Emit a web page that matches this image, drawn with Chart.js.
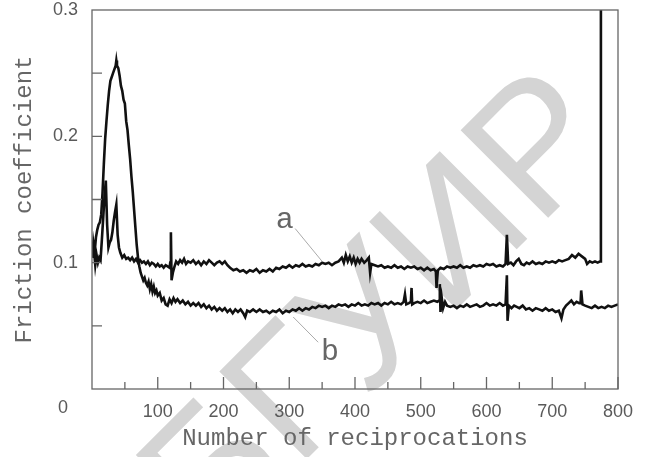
<!DOCTYPE html>
<html>
<head>
<meta charset="utf-8">
<script src="https://cdn.jsdelivr.net/npm/chart.js@4.4.1/dist/chart.umd.min.js"></script>
<style>
  html, body { margin: 0; padding: 0; background: #fff; }
  #wrap { width: 645px; height: 457px; }
</style>
</head>
<body>
<div id="wrap"><canvas id="friction" width="645" height="457"></canvas></div>
<script>
// curve a: reciprocations / friction coefficient
var stepsA = [0, 3, 5, 7, 9, 11, 13, 15, 17, 19, 21, 23, 25, 27, 29, 31, 33, 35, 37, 39,
  41, 43, 46, 49, 52, 55, 58, 61, 64, 67, 70, 73, 76, 79, 82, 85, 88, 91, 94, 97,
  100, 103, 106, 109, 112, 115, 118, 119, 120, 121, 123, 125, 128, 131, 134, 137, 140, 143, 146, 150,
  154, 158, 162, 166, 170, 174, 178, 182, 186, 190, 194, 198, 202, 206, 210, 215, 220, 225, 230, 235,
  240, 245, 250, 255, 260, 265, 270, 275, 280, 285, 290, 295, 300, 305, 310, 315, 320, 325, 330, 335,
  340, 345, 350, 355, 360, 365, 370, 375, 380, 383, 386, 389, 392, 395, 398, 401, 404, 407, 410, 414,
  418, 421, 423, 425, 430, 435, 440, 445, 450, 455, 460, 465, 470, 475, 480, 485, 490, 495, 500, 505,
  510, 515, 520, 523, 524, 526, 530, 535, 540, 545, 550, 555, 560, 565, 570, 575, 580, 585, 590, 595,
  600, 605, 610, 615, 620, 625, 629, 631, 633, 637, 641, 645, 649, 653, 657, 661, 665, 670, 675, 680,
  685, 690, 695, 700, 705, 710, 715, 720, 725, 730, 735, 740, 745, 750, 753, 757, 761, 765, 769, 773, 774];
var frictionA = [0.104, 0.110, 0.098, 0.106, 0.100, 0.104, 0.102, 0.118, 0.135, 0.152, 0.165, 0.130, 0.112, 0.116, 0.118, 0.124, 0.133, 0.140, 0.146, 0.122,
  0.112, 0.108, 0.104, 0.106, 0.103, 0.104, 0.102, 0.104, 0.101, 0.103, 0.100, 0.102, 0.100, 0.101, 0.099, 0.101, 0.098, 0.100, 0.099, 0.097,
  0.099, 0.097, 0.098, 0.096, 0.098, 0.097, 0.096, 0.100, 0.124, 0.086, 0.092, 0.096, 0.101, 0.099, 0.102, 0.100, 0.103, 0.099, 0.101, 0.100,
  0.102, 0.099, 0.101, 0.098, 0.101, 0.099, 0.102, 0.100, 0.098, 0.100, 0.101, 0.099, 0.101, 0.098, 0.096, 0.094, 0.095, 0.093, 0.094, 0.092,
  0.094, 0.093, 0.095, 0.092, 0.094, 0.093, 0.095, 0.093, 0.096, 0.095, 0.097, 0.096, 0.098, 0.096, 0.098, 0.097, 0.099, 0.097, 0.098, 0.097,
  0.099, 0.098, 0.100, 0.099, 0.100, 0.098, 0.100, 0.101, 0.104, 0.100, 0.106, 0.101, 0.105, 0.100, 0.104, 0.099, 0.103, 0.100, 0.103, 0.100,
  0.102, 0.104, 0.092, 0.099, 0.098, 0.097, 0.098, 0.096, 0.097, 0.096, 0.098, 0.096, 0.097, 0.095, 0.097, 0.096, 0.097, 0.095, 0.096, 0.094,
  0.096, 0.094, 0.095, 0.093, 0.080, 0.094, 0.096, 0.095, 0.097, 0.096, 0.097, 0.096, 0.098, 0.096, 0.097, 0.096, 0.098, 0.097, 0.098, 0.097,
  0.099, 0.098, 0.099, 0.097, 0.098, 0.097, 0.099, 0.122, 0.099, 0.100, 0.098, 0.101, 0.103, 0.099, 0.098, 0.100, 0.099, 0.101, 0.099, 0.100,
  0.099, 0.101, 0.100, 0.101, 0.100, 0.102, 0.101, 0.102, 0.103, 0.106, 0.104, 0.107, 0.105, 0.103, 0.099, 0.101, 0.100, 0.101, 0.100, 0.101, 0.330];

// curve b
var stepsB = [0, 2, 4, 6, 8, 10, 12, 14, 16, 18, 20, 22, 24, 26, 28, 30, 32, 34, 36, 37,
  38, 40, 42, 44, 46, 48, 50, 52, 54, 56, 58, 60, 62, 64, 66, 68, 70, 72, 74, 76,
  78, 80, 82, 84, 86, 88, 90, 92, 94, 96, 98, 100, 103, 106, 109, 112, 115, 118, 121, 124,
  127, 130, 134, 138, 142, 146, 150, 154, 158, 162, 166, 170, 174, 178, 182, 186, 190, 194, 198, 202,
  206, 210, 214, 218, 222, 226, 230, 233, 236, 240, 245, 250, 255, 260, 265, 270, 275, 280, 285, 290,
  295, 300, 305, 310, 315, 320, 325, 330, 335, 340, 345, 350, 355, 360, 365, 370, 375, 380, 385, 390,
  395, 400, 405, 410, 415, 420, 425, 430, 435, 440, 445, 450, 455, 460, 465, 470, 474, 476, 478, 482,
  485, 486, 487, 490, 495, 500, 505, 510, 515, 520, 525, 528, 529, 530, 532, 534, 537, 540, 545, 550,
  555, 560, 565, 570, 575, 580, 585, 590, 595, 600, 605, 610, 615, 620, 625, 629, 631, 632, 634, 638,
  642, 646, 650, 655, 660, 665, 670, 675, 680, 685, 690, 695, 700, 705, 710, 714, 717, 721, 725, 729,
  733, 737, 741, 743, 744, 746, 750, 755, 760, 765, 770, 775, 780, 785, 790, 795, 800];
var frictionB = [0.104, 0.116, 0.108, 0.120, 0.126, 0.130, 0.132, 0.138, 0.155, 0.178, 0.198, 0.212, 0.225, 0.236, 0.244, 0.247, 0.250, 0.253, 0.256, 0.260,
  0.256, 0.254, 0.248, 0.240, 0.236, 0.229, 0.226, 0.212, 0.205, 0.193, 0.182, 0.168, 0.156, 0.142, 0.128, 0.114, 0.104, 0.097, 0.092, 0.089,
  0.086, 0.088, 0.084, 0.082, 0.085, 0.079, 0.083, 0.077, 0.081, 0.076, 0.078, 0.074, 0.076, 0.070, 0.072, 0.067, 0.066, 0.071, 0.068, 0.072,
  0.069, 0.071, 0.068, 0.070, 0.067, 0.069, 0.066, 0.068, 0.066, 0.068, 0.065, 0.067, 0.064, 0.066, 0.063, 0.065, 0.062, 0.064, 0.062, 0.064,
  0.061, 0.063, 0.060, 0.063, 0.061, 0.063, 0.060, 0.057, 0.062, 0.061, 0.063, 0.061, 0.063, 0.061, 0.062, 0.060, 0.062, 0.061, 0.063, 0.060,
  0.062, 0.061, 0.063, 0.062, 0.064, 0.062, 0.064, 0.063, 0.065, 0.064, 0.066, 0.065, 0.066, 0.064, 0.066, 0.065, 0.067, 0.066, 0.067, 0.065,
  0.067, 0.066, 0.068, 0.066, 0.067, 0.066, 0.068, 0.067, 0.068, 0.066, 0.068, 0.067, 0.069, 0.067, 0.068, 0.067, 0.069, 0.075, 0.067, 0.068,
  0.069, 0.080, 0.067, 0.068, 0.069, 0.068, 0.070, 0.068, 0.069, 0.070, 0.069, 0.070, 0.083, 0.061, 0.072, 0.064, 0.069, 0.066, 0.065, 0.066,
  0.064, 0.066, 0.065, 0.067, 0.065, 0.066, 0.067, 0.065, 0.066, 0.068, 0.066, 0.067, 0.066, 0.068, 0.066, 0.067, 0.090, 0.054, 0.066, 0.064,
  0.066, 0.065, 0.064, 0.066, 0.063, 0.064, 0.062, 0.064, 0.063, 0.062, 0.064, 0.062, 0.063, 0.061, 0.062, 0.056, 0.063, 0.066, 0.068, 0.070,
  0.067, 0.069, 0.068, 0.068, 0.078, 0.067, 0.066, 0.065, 0.064, 0.066, 0.064, 0.065, 0.064, 0.066, 0.065, 0.066, 0.067];

var xTicksMajor = [100, 200, 300, 400, 500, 600, 700, 800];
var xTicksMinor = [50, 150, 250, 350, 450, 550, 650, 750];
var yTicks = [0.05, 0.1, 0.15, 0.2, 0.25];

function toPoints(xs, ys) {
    var pts = [];
    for (var i = 0; i < xs.length; i++) {
        pts.push({ x: xs[i], y: ys[i] });
    }
    return pts;
}

var inkGray = '#5a5a5a';
var titleGray = '#666';

// watermark, frame, inner ticks, curve labels
var decor = {
    id: 'decor',
    beforeDraw: function (chart) {
        var ctx = chart.ctx;
        ctx.save();
        ctx.translate(213, 553);
        ctx.rotate(-45 * Math.PI / 180);
        ctx.fillStyle = '#d4d4d4';
        ctx.font = '180px "Liberation Sans"';
        ctx.textBaseline = 'alphabetic';
        ctx.fillText('БГУИР', 0, 0);
        ctx.restore();
    },
    afterDraw: function (chart) {
        var ctx = chart.ctx;
        var a = chart.chartArea;
        var xs = chart.scales.x, ys = chart.scales.y;
        ctx.save();
        ctx.strokeStyle = '#666';
        ctx.lineWidth = 1.3;
        ctx.strokeRect(a.left, a.top, a.right - a.left, a.bottom - a.top);
        ctx.beginPath();
        xTicksMajor.forEach(function (v) {
            var px = xs.getPixelForValue(v);
            ctx.moveTo(px, a.bottom); ctx.lineTo(px, a.bottom - 12);
        });
        xTicksMinor.forEach(function (v) {
            var px = xs.getPixelForValue(v);
            ctx.moveTo(px, a.bottom); ctx.lineTo(px, a.bottom - 7);
        });
        yTicks.forEach(function (v) {
            var py = ys.getPixelForValue(v);
            ctx.moveTo(a.left, py); ctx.lineTo(a.left + 10, py);
        });
        ctx.stroke();

        // origin label
        ctx.fillStyle = inkGray;
        ctx.font = '18px "Liberation Sans"';
        ctx.textAlign = 'center';
        ctx.textBaseline = 'middle';
        ctx.fillText('0', a.left - 29, a.bottom + 19);

        // curve labels with leader lines
        ctx.strokeStyle = '#aaa';
        ctx.lineWidth = 1;
        ctx.beginPath();
        ctx.moveTo(xs.getPixelForValue(309), ys.getPixelForValue(0.127));
        ctx.lineTo(xs.getPixelForValue(350), ys.getPixelForValue(0.101));
        ctx.moveTo(xs.getPixelForValue(306), ys.getPixelForValue(0.057));
        ctx.lineTo(xs.getPixelForValue(344), ys.getPixelForValue(0.037));
        ctx.stroke();
        ctx.fillStyle = titleGray;
        ctx.font = '30px "Liberation Mono"';
        ctx.fillText('a', xs.getPixelForValue(293), ys.getPixelForValue(0.134));
        ctx.fillText('b', xs.getPixelForValue(362), ys.getPixelForValue(0.029));
        ctx.restore();
    }
};

var ctx1 = document.getElementById('friction');
var frictionChart = new Chart(ctx1, {
    type: 'line',
    data: {
        datasets: [{
            label: 'a',
            data: toPoints(stepsA, frictionA),
            borderColor: '#111',
            borderWidth: 2.6,
            pointRadius: 0,
            tension: 0
        }, {
            label: 'b',
            data: toPoints(stepsB, frictionB),
            borderColor: '#111',
            borderWidth: 2.6,
            pointRadius: 0,
            tension: 0
        }]
    },
    options: {
        responsive: false,
        animation: false,
        layout: {
            padding: { top: 10, right: 27, left: 0, bottom: 0 }
        },
        plugins: {
            legend: { display: false },
            tooltip: { enabled: false }
        },
        scales: {
            x: {
                type: 'linear',
                min: 0,
                max: 800,
                grid: { display: false, drawTicks: false },
                border: { display: false },
                ticks: {
                    stepSize: 100,
                    padding: 12,
                    color: inkGray,
                    font: { family: 'Liberation Sans', size: 18 },
                    callback: function (v) { return v === 0 ? '' : v; }
                },
                title: {
                    display: true,
                    text: 'Number of reciprocations',
                    color: titleGray,
                    font: { family: 'Liberation Mono', size: 24 },
                    padding: { top: 0, bottom: 4 }
                },
                afterFit: function (s) { s.height = 68; s.paddingLeft = 0; s.paddingRight = 0; }
            },
            y: {
                min: 0,
                max: 0.3,
                grid: { display: false, drawTicks: false },
                border: { display: false },
                ticks: {
                    stepSize: 0.1,
                    padding: 14,
                    color: inkGray,
                    font: { family: 'Liberation Sans', size: 18 },
                    callback: function (v) { return v === 0 ? '' : v.toFixed(1); }
                },
                title: {
                    display: true,
                    text: 'Friction coefficient',
                    color: titleGray,
                    font: { family: 'Liberation Mono', size: 24 },
                    padding: { top: 10, bottom: 0 }
                },
                afterFit: function (s) { s.width = 92; s.paddingTop = 0; s.paddingBottom = 0; }
            }
        }
    },
    plugins: [decor]
});
</script>
</body>
</html>
